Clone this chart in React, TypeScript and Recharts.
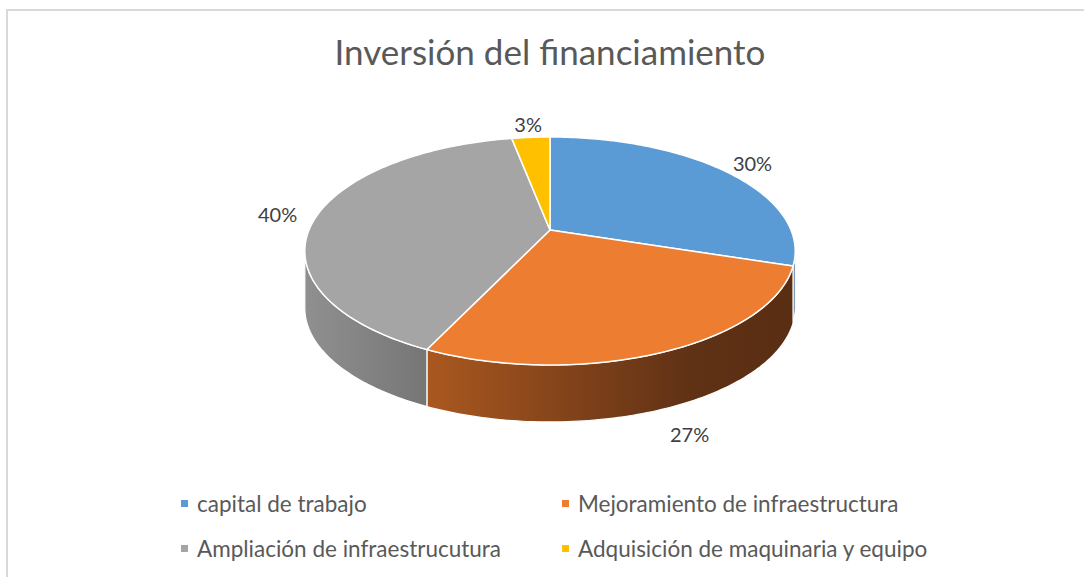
import React from 'react';
import { PieChart, Pie, Cell, Legend } from 'recharts';

const categories = [
  'capital de trabajo',
  'Mejoramiento de infraestructura',
  'Ampliación de infraestrucutura',
  'Adquisición de maquinaria y equipo',
];
const values = [30, 27, 40, 3];
const colors = ['#5B9BD5', '#ED7D31', '#A5A5A5', '#FFC000'];
// side wall shading (left -> right)
const sideStops: [number, string][][] = [
  [[0, '#2f5f8c'], [1, '#2a5580']],
  [[0, '#b35d22'], [0.26, '#a8571f'], [0.55, '#80421a'], [0.8, '#5f3115'], [1, '#5a2e13']],
  [[0, '#8f8f8f'], [0.26, '#747474'], [1, '#5e5e5e']],
  [[0, '#a07800'], [1, '#806000']],
];

const data = categories.map((name, i) => ({ name, value: values[i] }));

const W = 1084;
const H = 577;
const CX = 550;
const CY = 230;
const R = 241;
const TILT = 0.457; // vertical squash of the top face
const PERSP = 0.184; // near side drawn larger than far side
const DEPTH = 57;
const RAD = Math.PI / 180;
const EDGE = Math.asin(PERSP) / RAD; // silhouette angle

function project(cx: number, cy: number, r: number, deg: number, f = 1) {
  const u = f * Math.cos(deg * RAD);
  const v = f * Math.sin(deg * RAD);
  const d = 1 + PERSP * v;
  return [cx + (r * u) / d, cy - (r * TILT * v) / d];
}

function arcPoints(cx: number, cy: number, r: number, a0: number, a1: number, dy = 0) {
  const n = Math.max(2, Math.ceil(Math.abs(a1 - a0)));
  const pts: string[] = [];
  for (let i = 0; i <= n; i++) {
    const a = a0 + ((a1 - a0) * i) / n;
    const [x, y] = project(cx, cy, r, a);
    pts.push(`${x.toFixed(2)},${(y + dy).toFixed(2)}`);
  }
  return pts;
}

function Slice3D(props: any) {
  const { cx, cy, outerRadius, startAngle, endAngle, fill } = props;
  const name = props.name ?? props.payload?.name;
  const idx = Math.max(0, categories.indexOf(name));
  const s = Math.max(startAngle, endAngle);
  const e = Math.min(startAngle, endAngle);
  const lo = Math.max(e, -180 + EDGE);
  const hi = Math.min(s, -EDGE);
  const gid = `side-grad-${idx}`;
  let wall = null;
  if (lo < hi) {
    const top = arcPoints(cx, cy, outerRadius, hi, lo);
    const bottom = arcPoints(cx, cy, outerRadius, lo, hi, DEPTH);
    wall = (
      <path
        d={`M${top.join(' L')} L${bottom.join(' L')} Z`}
        fill={`url(#${gid})`}
        stroke="#ffffff"
        strokeWidth={1.2}
        strokeLinejoin="round"
      />
    );
  }
  const face = arcPoints(cx, cy, outerRadius, startAngle, endAngle);
  return (
    <g>
      <defs>
        <linearGradient id={gid} gradientUnits="userSpaceOnUse" x1={cx - outerRadius} y1={0} x2={cx + outerRadius} y2={0}>
          {sideStops[idx].map(([o, c]) => (
            <stop key={o} offset={o} stopColor={c} />
          ))}
        </linearGradient>
      </defs>
      {wall}
      <path
        d={`M${cx},${cy} L${face.join(' L')} Z`}
        fill={fill}
        stroke="#ffffff"
        strokeWidth={1.5}
        strokeLinejoin="round"
      />
    </g>
  );
}

function renderLabel(props: any) {
  const { cx, cy, outerRadius, midAngle, percent } = props;
  const [x, y0] = project(cx, cy, outerRadius, midAngle, 1.17);
  const y = Math.sin(midAngle * RAD) < 0 ? y0 + DEPTH : y0;
  return (
    <text
      x={x}
      y={y}
      textAnchor="middle"
      dominantBaseline="central"
      fill="#404040"
      fontSize={20}
      fontFamily="Lato, 'Open Sans', sans-serif"
    >
      {`${Math.round(percent * 100)}%`}
    </text>
  );
}

function LegendGrid(props: any) {
  const items = [...(props.payload || [])].sort(
    (a: any, b: any) => categories.indexOf(a.value) - categories.indexOf(b.value)
  );
  return (
    <div style={{ display: 'grid', gridTemplateColumns: '381px 381px', paddingLeft: 181 }}>
      {items.map((p: any) => (
        <div key={p.value} style={{ display: 'flex', alignItems: 'center', height: 45 }}>
          <span style={{ width: 7, height: 7, background: p.color, marginRight: 9, flex: 'none' }} />
          <span
            style={{
              fontFamily: "Lato, 'Open Sans', sans-serif",
              fontSize: 22.5,
              color: '#595959',
              lineHeight: '45px',
              whiteSpace: 'nowrap',
            }}
          >
            {p.value}
          </span>
        </div>
      ))}
    </div>
  );
}

export default function App() {
  return (
    <div style={{ position: 'absolute', left: 0, top: 0, width: W, height: H, overflow: 'hidden', background: '#fff' }}>
      <div
        style={{
          position: 'absolute',
          left: 6,
          top: 9,
          width: W,
          height: H,
          border: '2px solid #d9d9d9',
          boxSizing: 'border-box',
        }}
      />
      <div style={{ position: 'absolute', left: 0, top: 0 }}>
        <PieChart width={W} height={H} margin={{ top: 0, right: 0, bottom: 0, left: 0 }}>
          <text
            x={550}
            y={65}
            textAnchor="middle"
            fill="#595959"
            fontSize={35}
            fontFamily="Lato, 'Open Sans', sans-serif"
          >
            Inversión del financiamiento
          </text>
          <Pie
            data={data}
            dataKey="value"
            nameKey="name"
            cx={CX}
            cy={CY}
            outerRadius={R}
            startAngle={90}
            endAngle={-270}
            stroke="#ffffff"
            isAnimationActive={false}
            labelLine={false}
            label={renderLabel}
            shape={Slice3D}
          >
            {data.map((d, i) => (
              <Cell key={d.name} fill={colors[i]} />
            ))}
          </Pie>
          <Legend
            content={<LegendGrid />}
            wrapperStyle={{ left: 0, top: 481, width: W, margin: 0 }}
          />
        </PieChart>
      </div>
    </div>
  );
}
